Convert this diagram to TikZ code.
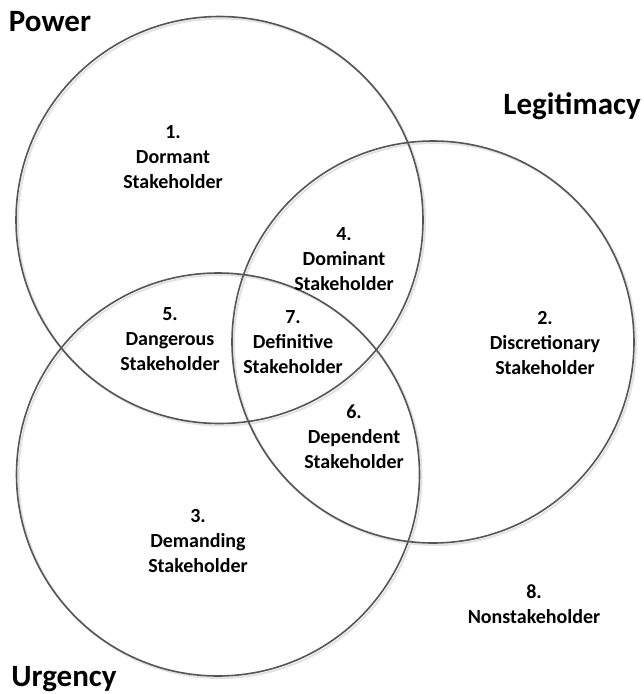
\documentclass[tikz,border=0pt]{standalone}
\usepackage{fontspec}
\setmainfont{Carlito}
\definecolor{ringcol}{HTML}{555555}
\definecolor{shadecol}{HTML}{E2E2E2}
\begin{document}
\begin{tikzpicture}[x=1pt,y=-1pt,
  ring/.style={draw=ringcol,line width=1.6pt},
  ringshade/.style={draw=shadecol,line width=2pt},
  region/.style={font=\bfseries\fontsize{20}{25}\selectfont,align=center,inner sep=0pt,text=black},
  settitle/.style={font=\bfseries\fontsize{31}{36}\selectfont,inner sep=0pt,text=black}]
\useasboundingbox (0,0) rectangle (644,694);
% shadows
\draw[ringshade] (221.5,222) circle (203.5);
\draw[ringshade] (435,344) circle (201);
\draw[ringshade] (220,476.5) circle (201.5);
% circles
\draw[ring] (219.5,220) circle (203.5) coordinate (powc);
\draw[ring] (433,342) circle (201) coordinate (legc);
\draw[ring] (218,474.5) circle (201.5) coordinate (urgc);
% titles
\node[settitle] (power) at (50,22) {Power};
\node[settitle,anchor=east] (legit) at (641,106) {Legitimacy};
\node[settitle] (urgency) at (64,679) {Urgency};
% regions
\node[region] (r1) at (173,157) {1.\\Dormant\\Stakeholder};
\node[region] (r4) at (344,259) {4.\\Dominant\\Stakeholder};
\node[region] (r5) at (170,339) {5.\\Dangerous\\Stakeholder};
\node[region] (r7) at (293,342) {7.\\Definitive\\Stakeholder};
\node[region] (r2) at (545,343) {2.\\Discretionary\\Stakeholder};
\node[region] (r6) at (354,437) {6.\\Dependent\\Stakeholder};
\node[region] (r3) at (198,541) {3.\\Demanding\\Stakeholder};
\node[region] (r8) at (534,604) {8.\\Nonstakeholder};
\end{tikzpicture}
\end{document}
